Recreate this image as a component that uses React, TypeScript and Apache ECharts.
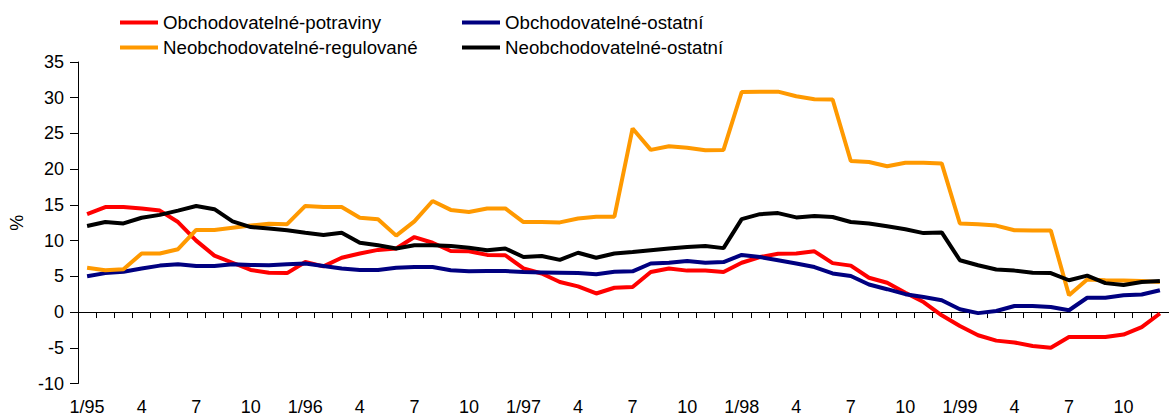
import React, { useEffect, useRef } from "react";
import * as echarts from "echarts";

const categories = [
  "1/95", "2", "3", "4", "5", "6", "7", "8", "9", "10", "11", "12",
  "1/96", "2", "3", "4", "5", "6", "7", "8", "9", "10", "11", "12",
  "1/97", "2", "3", "4", "5", "6", "7", "8", "9", "10", "11", "12",
  "1/98", "2", "3", "4", "5", "6", "7", "8", "9", "10", "11", "12",
  "1/99", "2", "3", "4", "5", "6", "7", "8", "9", "10", "11", "12",
];

const seriesNames = [
  "Obchodovatelné-potraviny",
  "Obchodovatelné-ostatní",
  "Neobchodovatelné-regulované",
  "Neobchodovatelné-ostatní",
];

const obchPotraviny = [
  13.7, 14.7, 14.7, 14.5, 14.2, 12.6, 10.0, 7.9, 6.9, 5.9, 5.5, 5.45,
  7.0, 6.4, 7.6, 8.2, 8.7, 8.9, 10.5, 9.7, 8.55, 8.5, 8.0, 7.95,
  6.1, 5.4, 4.2, 3.6, 2.6, 3.4, 3.5, 5.6, 6.1, 5.8, 5.8, 5.6,
  6.9, 7.7, 8.15, 8.2, 8.5, 6.85, 6.5, 4.8, 4.1, 2.7, 1.4, -0.45,
  -1.95, -3.25, -4.0, -4.25, -4.75, -5.0, -3.5, -3.5, -3.5, -3.15, -2.1, -0.2,
];

const obchOstatni = [
  5.0, 5.45, 5.65, 6.1, 6.5, 6.7, 6.45, 6.45, 6.7, 6.6, 6.55, 6.7,
  6.8, 6.45, 6.1, 5.9, 5.9, 6.2, 6.3, 6.3, 5.85, 5.7, 5.75, 5.75,
  5.6, 5.55, 5.5, 5.45, 5.3, 5.65, 5.7, 6.8, 6.9, 7.15, 6.9, 7.0,
  8.0, 7.7, 7.25, 6.8, 6.3, 5.4, 5.05, 3.85, 3.2, 2.5, 2.1, 1.65,
  0.4, -0.15, 0.15, 0.85, 0.85, 0.7, 0.25, 2.0, 2.0, 2.35, 2.45, 3.05,
];

const neobchRegulovane = [
  6.2, 5.85, 6.0, 8.2, 8.2, 8.8, 11.5, 11.5, 11.8, 12.1, 12.35, 12.3,
  14.85, 14.7, 14.7, 13.2, 13.0, 10.7, 12.7, 15.55, 14.3, 14.0, 14.5, 14.5,
  12.6, 12.6, 12.55, 13.1, 13.35, 13.35, 25.7, 22.7, 23.2, 23.0, 22.65, 22.7,
  30.8, 30.85, 30.85, 30.2, 29.8, 29.75, 21.15, 21.0, 20.4, 20.9, 20.9, 20.8,
  12.4, 12.3, 12.1, 11.45, 11.4, 11.4, 2.35, 4.55, 4.45, 4.4, 4.35, 4.2,
];

const neobchOstatni = [
  12.05, 12.6, 12.4, 13.2, 13.6, 14.2, 14.85, 14.4, 12.7, 11.9, 11.7, 11.45,
  11.1, 10.8, 11.1, 9.7, 9.35, 8.9, 9.35, 9.35, 9.25, 9.0, 8.65, 8.9,
  7.7, 7.85, 7.3, 8.3, 7.6, 8.2, 8.4, 8.65, 8.9, 9.1, 9.25, 8.95,
  13.0, 13.7, 13.85, 13.25, 13.45, 13.3, 12.6, 12.4, 12.0, 11.6, 11.05, 11.15,
  7.25, 6.55, 5.95, 5.8, 5.5, 5.45, 4.45, 5.1, 4.05, 3.8, 4.2, 4.35,
];

const seriesData = [obchPotraviny, obchOstatni, neobchRegulovane, neobchOstatni];
const seriesColors = ["#FF0000", "#000080", "#FF9900", "#000000"];

const FONT = "'Liberation Sans', Arial, sans-serif";

export default function App() {
  const ref = useRef<HTMLDivElement>(null);

  useEffect(() => {
    if (!ref.current) return;
    const chart = echarts.init(ref.current, undefined, { renderer: "svg" });

    const legendCommon = {
      orient: "horizontal",
      icon: "rect",
      itemWidth: 38,
      itemHeight: 4,
      padding: 0,
      selectedMode: false,
      textStyle: { fontSize: 18.7, color: "#000", fontFamily: FONT },
    };

    const legendPos = [
      { left: 120, top: 13 },
      { left: 462, top: 13 },
      { left: 120, top: 38 },
      { left: 462, top: 38 },
    ];

    chart.setOption({
      animation: false,
      backgroundColor: "#fff",
      textStyle: { fontFamily: FONT },
      legend: seriesNames.map((n, i) => ({
        ...legendCommon,
        data: [n],
        ...legendPos[i],
      })),
      grid: { left: 78, top: 62, width: 1100, height: 321.5, containLabel: false },
      xAxis: [
        {
          type: "category",
          data: categories,
          position: "bottom",
          boundaryGap: true,
          axisLine: { onZero: true, lineStyle: { color: "#000", width: 1 } },
          axisTick: { show: true, interval: 0, length: 6, lineStyle: { color: "#000" } },
          axisLabel: { show: false },
          splitLine: { show: false },
        },
        {
          type: "category",
          data: categories,
          position: "bottom",
          boundaryGap: true,
          axisLine: { show: false, onZero: false },
          axisTick: { show: false },
          axisLabel: {
            show: true,
            interval: 2,
            margin: 14,
            fontSize: 18,
            color: "#000",
            fontFamily: FONT,
          },
          splitLine: { show: false },
        },
      ],
      yAxis: {
        type: "value",
        min: -10,
        max: 35,
        interval: 5,
        name: "%",
        nameLocation: "middle",
        nameGap: 52,
        nameTextStyle: { fontSize: 18, color: "#000", fontFamily: FONT },
        axisLine: { show: true, lineStyle: { color: "#000", width: 1 } },
        axisTick: { show: true, length: 8, lineStyle: { color: "#000" } },
        axisLabel: { fontSize: 18, color: "#000", margin: 14, fontFamily: FONT },
        splitLine: { show: false },
      },
      series: seriesNames.map((n, i) => ({
        name: n,
        type: "line",
        data: seriesData[i],
        xAxisIndex: 0,
        showSymbol: false,
        symbol: "none",
        color: seriesColors[i],
        lineStyle: { color: seriesColors[i], width: 4 },
        itemStyle: { color: seriesColors[i] },
      })),
    });

    return () => chart.dispose();
  }, []);

  return (
    <div
      ref={ref}
      style={{ position: "absolute", left: 0, top: 0, width: 1169, height: 419 }}
    />
  );
}
